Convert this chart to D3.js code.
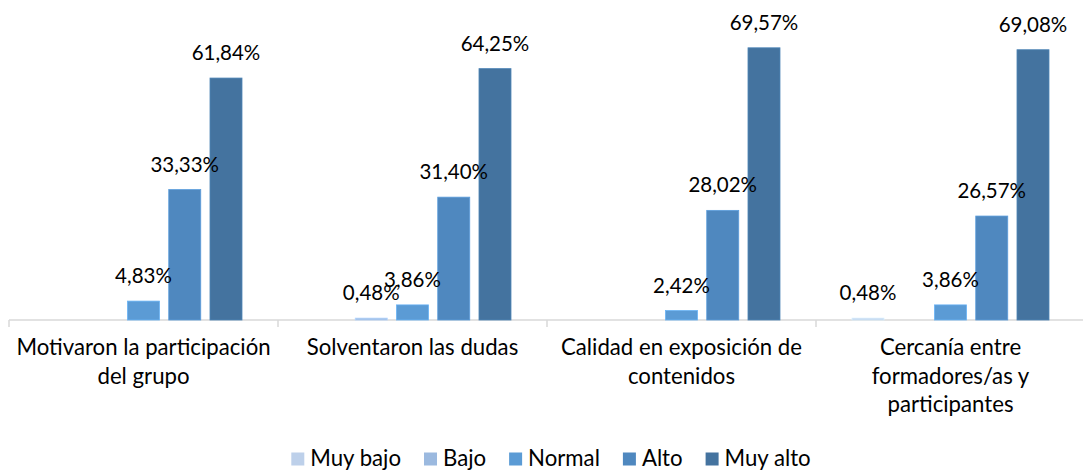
<!DOCTYPE html>
<html><head><meta charset="utf-8">
<script src="https://cdn.jsdelivr.net/npm/d3@7"></script>
<style>
html,body{margin:0;padding:0;background:#fff;}
svg{display:block;font-family:Lato,"Noto Sans",sans-serif;}
</style></head>
<body>
<svg id="chart" width="1083" height="473"></svg>
<script>
const categories = ["Motivaron la participación del grupo","Solventaron las dudas","Calidad en exposición de contenidos","Cercanía entre formadores/as y participantes"];
const categoryLines = [["Motivaron la participación","del grupo"],["Solventaron las dudas"],["Calidad en exposición de","contenidos"],["Cercanía entre","formadores/as y","participantes"]];
const series = ["Muy bajo","Bajo","Normal","Alto","Muy alto"];
const muyBajo = [0, 0, 0, 0.48];
const bajo    = [0, 0.48, 0, 0];
const normal  = [4.83, 3.86, 2.42, 3.86];
const alto    = [33.33, 31.40, 28.02, 26.57];
const muyAlto = [61.84, 64.25, 69.57, 69.08];
const colors = ["#bdd0ea","#9bb9df","#5b9bd5","#4f88bf","#44739f"];

const values = [muyBajo, bajo, normal, alto, muyAlto];
const svg = d3.select("#chart");
const fsVal = 20.5;
const fsCat = 22.2;

const x0 = d3.scaleBand().domain(categories).range([9, 1085]).padding(0);
const x1 = d3.scaleBand().domain(series).range([36, x0.bandwidth()-36]).paddingInner(0.224).paddingOuter(0);
const y = d3.scaleLinear().domain([0, 80]).range([320, 7]);

const data = [];
categories.forEach((c, ci) => series.forEach((s, si) => data.push({c, s, si, v: values[si][ci]})));

// axis
const axisG = svg.append("g").attr("transform", "translate(0,320)");
axisG.append("line").attr("x1", 9).attr("x2", 1085).attr("y1", 0).attr("y2", 0).attr("stroke", "#d9d9d9").attr("stroke-width", 1.5);
categories.forEach((c, i) => {
  axisG.append("line").attr("x1", x0(c)).attr("x2", x0(c)).attr("y1", 0).attr("y2", 7).attr("stroke", "#d9d9d9").attr("stroke-width", 1.5);
});

// bars
svg.append("g").selectAll("rect").data(data.filter(d => d.v > 0)).join("rect")
  .attr("x", d => x0(d.c) + x1(d.s))
  .attr("width", x1.bandwidth())
  .attr("y", d => y(d.v))
  .attr("height", d => y(0) - y(d.v))
  .attr("fill", d => colors[d.si])
  .attr("stroke", d => d3.color(colors[d.si]).brighter(0.4))
  .attr("stroke-width", 0.8);

// value labels
svg.append("g").selectAll("text").data(data.filter(d => d.v > 0)).join("text")
  .attr("x", d => x0(d.c) + x1(d.s) + x1.bandwidth()/2)
  .attr("y", d => y(d.v) - 18)
  .attr("text-anchor", "middle")
  .attr("font-size", fsVal)
  .attr("fill", "#000")
  .text(d => d3.format(".2f")(d.v).replace(".", ",") + "%");

// category labels
const catG = svg.append("g");
categories.forEach((c, i) => {
  const t = catG.append("text")
    .attr("x", x0(c) + x0.bandwidth()/2)
    .attr("y", 355)
    .attr("text-anchor", "middle")
    .attr("font-size", fsCat)
    .attr("fill", "#000");
  categoryLines[i].forEach((ln, j) => {
    t.append("tspan").attr("x", x0(c) + x0.bandwidth()/2).attr("dy", j === 0 ? 0 : 28.5).text(ln);
  });
});

// legend
const leg = svg.append("g");
const items = leg.selectAll("g").data(series).join("g");
items.append("rect").attr("width", 13).attr("height", 13).attr("y", 452.5).attr("fill", (d, i) => colors[i]);
items.append("text").attr("x", 19).attr("y", 466).attr("font-size", fsCat).attr("fill", "#000").text(d => d);
let widths = [];
items.each(function(){ widths.push(this.querySelector("text").getComputedTextLength()); });
const gap = 23;
const total = d3.sum(widths.map(w => 19 + w)) + gap * (series.length - 1);
let cx = 551 - total/2;
items.each(function(d, i){ d3.select(this).attr("transform", `translate(${cx},0)`); cx += 19 + widths[i] + gap; });
</script>
</body></html>
